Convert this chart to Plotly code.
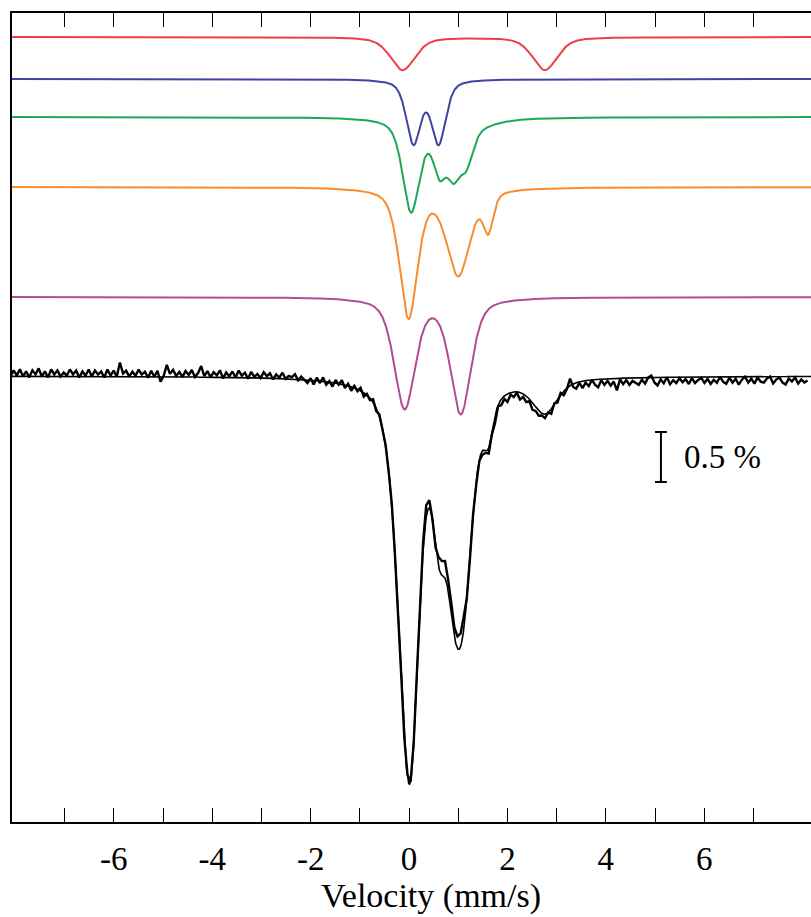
import numpy as np
import plotly.graph_objects as go

# ---------------- data ----------------
# Sub-spectra lines: centre (mm/s), half-width (mm/s), depth (%)
red_centers = [-0.13, 2.76]
red_halfwidths = [0.30, 0.30]
red_depths = [0.33, 0.33]

blue_centers = [0.09, 0.60]
blue_halfwidths = [0.172, 0.172]
blue_depths = [0.63, 0.63]

green_centers = [0.04, 0.62, 0.90, 1.16, 0.90]
green_halfwidths = [0.20, 0.15, 0.15, 0.16, 0.70]
green_depths = [0.89, 0.41, 0.39, 0.34, 0.12]

orange_centers = [-0.01, 1.00, 1.61]
orange_halfwidths = [0.218, 0.28, 0.12]
orange_depths = [1.29, 0.86, 0.375]

purple_centers = [-0.09, 1.05]
purple_halfwidths = [0.25, 0.25]
purple_depths = [1.10, 1.15]

lorentz_fraction = 0.5  # pseudo-Voigt mixing

# vertical offsets of the stacked sub-spectra (%)
component_offsets = {"red": 3.39, "blue": 2.97, "green": 2.59, "orange": 1.89, "purple": 0.79}

channel_range = [-8.1, 8.1]
residuals = [
    0, -6, -1, -7, 0, -5, 1, -6, -2, -8, 0, -5, 1, -7, -2, -6, 0, -4, -1, -7,
    -2, -6, 1, -5, -1, -7, 0, -6, -2, -5, 1, -7, -1, -6, 0, -14, -3, -6, 0, -5,
    -1, -7, -2, -5, 1, -6, 0, -6, 5, -1, -12, -3, -7, -1, -5, 0, -6, -2, -7, 0,
    -4, -11, -1, -6, 0, -5, -2, -7, 1, -5, -1, -6, 0, -7, -2, -5, 1, -6, -1, -4,
    0, -6, -2, -5, 1, -4, -1, -6, 0, -3, -2, -5, 1, -3, 0,
    3, -2, 4, -3, 2, -4, 3, -1, 4, -3, 1, -4, 3, -2, 4, -2, 2, -3, 4, -1, 2, -3, 3, -2,
    2, -1, 1, -2, 2, 0, -1, 2, -2, 1, -1, -3, -5,
    -8, -12, -8, -1, 3, -10, -14, -17, -11, -11, -9, -12, -13, -13,
    0, 2, -1, 3, 1, 4, 2,
    6, 2, 7, 1, 6, 3, 8, 2, 5, 1, 7, 3, 6, 2, 7, 4, 5, 2,
    4, 0, 5, -1, 3, -2, 4, 1, -7, 3,
    6, 1, 7, 2, 6, 0, 5, 8, 1, 6, 2, 7, 3, 12, 1, 6, 2, 7, 3, 5,
    7, 2, 6, 0, -2, 5, 8, 2, 6, 0, 7, 3, 6, 1, 5, 2, 7, 1, 6, 3,
    1, 6, 2, 7, 3, 6, 0, 5, 7, 1, 6, 2, 8, 3, 0, 6, 2, 7, 1, 5,
    6, 2, 0, 7, 3, 1, 6, 8, 2, 5, 1, 7, 3, 6, 4,
]

tick_values = [-7, -6, -5, -4, -3, -2, -1, 0, 1, 2, 3, 4, 5, 6, 7]
tick_labels = ["", "-6", "", "-4", "", "-2", "", "0", "", "2", "", "4", "", "6", ""]
x_title = "Velocity (mm/s)"
scale_label = "0.5 %"
scale_value = 0.5

# ---------------- model ----------------
def line_sum(v, centers, halfwidths, depths):
    out = np.zeros_like(v)
    for c, g, d in zip(centers, halfwidths, depths):
        r2 = ((v - c) / g) ** 2
        shape = lorentz_fraction / (1.0 + r2) + (1 - lorentz_fraction) * np.exp(-np.log(2) * r2)
        out += d * shape
    return out

v_fine = np.linspace(-8.2, 8.3, 3000)
components = [
    ("red", "rgb(236,62,72)", red_centers, red_halfwidths, red_depths),
    ("blue", "rgb(62,68,160)", blue_centers, blue_halfwidths, blue_depths),
    ("green", "rgb(28,168,88)", green_centers, green_halfwidths, green_depths),
    ("orange", "rgb(250,140,48)", orange_centers, orange_halfwidths, orange_depths),
    ("purple", "rgb(176,76,150)", purple_centers, purple_halfwidths, purple_depths),
]

def total_fit(v):
    tot = np.zeros_like(v)
    for _, _, c, g, d in components:
        tot += line_sum(v, c, g, d)
    return tot

fig = go.Figure()
for name, color, c, g, d in components:
    fig.add_trace(go.Scatter(
        x=v_fine, y=component_offsets[name] - line_sum(v_fine, c, g, d),
        mode="lines", line=dict(color=color, width=2), showlegend=False))

v_data = np.linspace(channel_range[0], channel_range[1], len(residuals))
y_data = -(total_fit(v_data) + np.array(residuals) * 0.01)
fig.add_trace(go.Scatter(x=v_data, y=y_data, mode="lines",
                         line=dict(color="black", width=2.4), showlegend=False))
fig.add_trace(go.Scatter(x=v_fine, y=-total_fit(v_fine), mode="lines",
                         line=dict(color="black", width=1.6), showlegend=False))

# scale bar
sb_x, sb_top, sb_cap = 5.12, -0.56, 0.12
fig.add_shape(type="line", x0=sb_x, x1=sb_x, y0=sb_top, y1=sb_top - scale_value,
              line=dict(color="black", width=2))
for yy in (sb_top, sb_top - scale_value):
    fig.add_shape(type="line", x0=sb_x - sb_cap, x1=sb_x + sb_cap, y0=yy, y1=yy,
                  line=dict(color="black", width=2))

serif = dict(family="Liberation Serif", size=33, color="black")
fig.add_annotation(x=sb_x + 0.42, y=sb_top - scale_value / 2, text=scale_label,
                   showarrow=False, xanchor="left", yanchor="middle", font=serif)

# axis title
fig.add_annotation(x=0.524, y=-0.0915, xref="paper", yref="paper", text=x_title,
                   showarrow=False, xanchor="center", yanchor="middle",
                   font=dict(family="Liberation Serif", size=34, color="black"))

fig.update_layout(
    width=811, height=917,
    margin=dict(l=12, r=0, t=13, b=95),
    paper_bgcolor="white", plot_bgcolor="white",
    showlegend=False,
    xaxis=dict(range=[-8.07, 8.17], showgrid=False, zeroline=False,
               showline=True, linecolor="black", linewidth=2, mirror="allticks",
               ticks="inside", ticklen=14, tickwidth=1.3, tickcolor="black",
               tickvals=tick_values, ticktext=tick_labels, tickfont=serif,
               ticklabelstandoff=6),
    yaxis=dict(range=[-4.46, 3.63], showgrid=False, zeroline=False,
               showline=True, linecolor="black", linewidth=2, mirror=False,
               ticks="", showticklabels=False),
)

fig.write_html("out.html")
